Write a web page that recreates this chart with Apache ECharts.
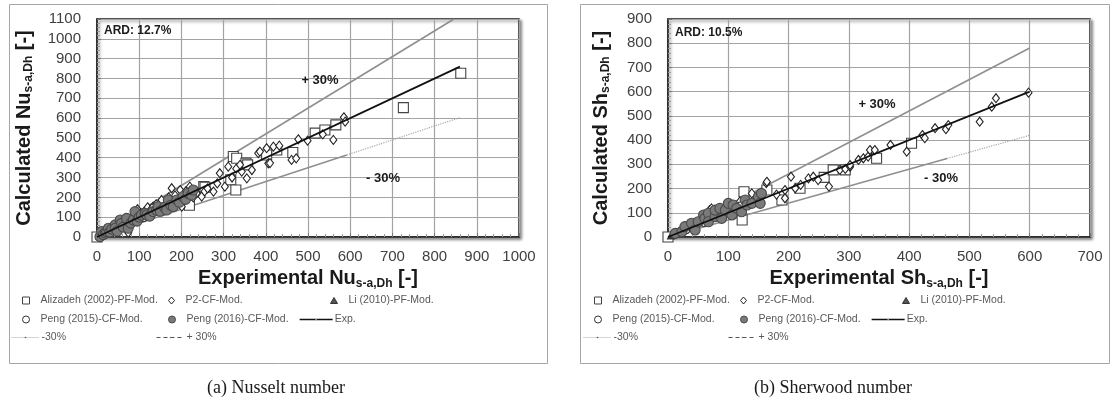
<!DOCTYPE html>
<html>
<head>
<meta charset="utf-8">
<script src="https://cdn.jsdelivr.net/npm/echarts@6.0.0/dist/echarts.min.js"></script>
<style>
html, body { margin: 0; padding: 0; background: #fff; }
#main { width: 1112px; height: 408px; }
</style>
</head>
<body>
<div id="main"></div>
<script>
// ---------- (a) Nusselt number ----------
var nuXTicks = [0, 100, 200, 300, 400, 500, 600, 700, 800, 900, 1000];
var nuYTicks = [0, 100, 200, 300, 400, 500, 600, 700, 800, 900, 1000, 1100];
var nuAlizadeh = [[0,0],[219,160],[253,254],[256,251],[317,288],[323,406],[329,237],[331,397],[353,373],[357,364],
  [402,414],[426,439],[464,426],[517,524],[540,540],[566,566],[726,653],[862,826]];
var nuP2 = [[12,15],[18,22],[25,28],[30,35],[38,45],[45,50],[52,60],[62,69],[70,82],[74,22],[80,95],[90,100],
  [96,140],[106,119],[112,128],[120,150],[128,140],[133,153],[140,165],[150,160],[153,187],[161,136],[170,200],
  [177,246],[185,210],[197,237],[201,153],[210,230],[220,254],[228,200],[236,221],[248,204],[255,230],[262,245],
  [276,229],[285,270],[291,322],[303,254],[311,355],[320,300],[330,345],[339,364],[343,330],[355,296],[367,338],
  [382,423],[386,431],[402,448],[406,372],[410,373],[418,456],[432,461],[461,389],[472,397],[477,493],[499,486],
  [535,518],[560,490],[585,604],[588,582]];
var nuLi = [[5,8],[10,12],[14,18]];
var nuPeng2015 = [[20,25],[35,30],[50,55],[65,60],[95,105],[110,95]];
var nuPeng2016 = [[7,2],[11,27],[15,12],[20,20],[23,27],[27,44],[30,25],[35,40],[43,61],[43,44],[48,30],[55,86],
  [58,69],[62,50],[70,94],[74,44],[80,70],[86,86],[90,128],[95,80],[100,100],[105,110],[114,119],[118,111],
  [125,105],[133,128],[141,136],[145,153],[150,130],[160,150],[165,136],[169,187],[175,160],[181,153],[189,187],
  [195,175],[204,204],[210,190],[216,221],[224,212],[228,237]];
var nuExp = [[0,0],[860,860]];
var nuPlus30 = [[0,0],[846,1100]];
var nuMinus30Solid = [[0,0],[592,414]];
var nuMinus30 = [[592,414],[860,602]];

// ---------- (b) Sherwood number ----------
var shXTicks = [0, 100, 200, 300, 400, 500, 600, 700];
var shYTicks = [0, 100, 200, 300, 400, 500, 600, 700, 800, 900];
var shAlizadeh = [[0,0],[123,70],[126,187],[164,194],[189,153],[219,201],[259,246],[274,277],[294,277],
  [346,325],[404,387]];
var shP2 = [[10,12],[18,20],[25,30],[33,38],[40,45],[48,55],[55,65],[62,70],[69,111],[72,118],[80,90],[90,100],
  [100,110],[111,125],[116,132],[119,146],[130,140],[139,180],[150,150],[163,222],[164,228],[180,175],[194,160],
  [194,194],[204,249],[211,201],[220,215],[233,242],[241,249],[249,235],[267,208],[285,277],[294,281],[302,290],
  [302,297],[316,318],[324,325],[332,332],[335,359],[343,359],[369,380],[396,352],[422,421],[426,408],[443,449],
  [461,445],[465,462],[517,476],[537,538],[544,573],[598,596]];
var shLi = [[5,6],[8,10],[12,14]];
var shPeng2015 = [[15,18],[30,28],[45,50],[60,58],[95,100],[120,130]];
var shPeng2016 = [[12,15],[23,22],[28,43],[39,57],[45,29],[50,63],[59,91],[61,77],[67,98],[67,63],[78,84],
  [78,111],[86,118],[89,77],[95,111],[100,139],[106,91],[108,132],[114,118],[122,104],[128,153],[131,132],
  [139,139],[150,166],[153,139],[155,180]];
var shExp = [[0,0],[600,600]];
var shPlus30 = [[0,0],[600,780]];
var shMinus30Solid = [[0,0],[463,324]];
var shMinus30 = [[463,324],[600,420]];

var FONT = 'Liberation Sans, Arial, sans-serif';

function axisCommon(ticks, idx) {
  return {
    type: 'value', gridIndex: idx,
    min: ticks[0], max: ticks[ticks.length - 1], interval: ticks[1] - ticks[0],
    axisLine: { show: true, lineStyle: { color: '#222', width: 1.5 } },
    axisTick: { show: true, inside: true, length: 4, lineStyle: { color: '#777' } },
    minorTick: { show: true, splitNumber: 5, length: 3, lineStyle: { color: '#999' } },
    splitLine: { show: true, lineStyle: { color: '#a3a3a3', width: 1.2 } },
    nameTextStyle: {
      color: '#1a1a1a', fontFamily: FONT,
      rich: {
        m: { fontSize: 20, fontWeight: 'bold', fontFamily: FONT, color: '#1a1a1a' },
        s: { fontSize: 12, fontWeight: 'bold', fontFamily: FONT, color: '#1a1a1a', padding: [10, 0, 0, 0] }
      }
    }
  };
}

function labelStyle(margin) {
  return { color: '#404040', fontSize: 15, fontFamily: FONT, margin: margin,
    formatter: function (v) { return String(v); } };
}

function scatter(name, data, idx, symbol, size, fill, stroke) {
  return {
    name: name, type: 'scatter', xAxisIndex: idx, yAxisIndex: idx, data: data,
    symbol: symbol, symbolSize: size,
    itemStyle: { color: fill, borderColor: stroke, borderWidth: 1.1, opacity: 1 },
    emphasis: { disabled: true }
  };
}

function line(name, data, idx, color, width, type, z) {
  return {
    name: name, type: 'line', xAxisIndex: idx, yAxisIndex: idx, data: data,
    symbol: 'none', z: z, lineStyle: { color: color, width: width, type: type },
    emphasis: { disabled: true }
  };
}

function panelSeries(idx, d) {
  return [
    line('+ 30%', d.plus, idx, '#8f8f8f', 1.6, 'solid', 2),
    line('-30% solid', d.minusSolid, idx, '#8f8f8f', 1.6, 'solid', 2),
    line('-30%', d.minus, idx, '#a8a8a8', 1.2, 'dotted', 2),
    scatter('Alizadeh (2002)-PF-Mod.', d.aliz, idx, 'rect', 10, '#fff', '#444'),
    scatter('P2-CF-Mod.', d.p2, idx, 'diamond', [7, 9], '#fff', '#222'),
    scatter('Li (2010)-PF-Mod.', d.li, idx, 'triangle', 7, '#555', '#333'),
    scatter('Peng (2015)-CF-Mod.', d.p15, idx, 'circle', 7, '#fff', '#333'),
    scatter('Peng (2016)-CF-Mod.', d.p16, idx, 'circle', 10, '#7a7a7a', '#4a4a4a'),
    line('Exp.', d.exp, idx, '#111', 1.8, 'solid', 5)
  ];
}

// legend entries: [name, iconLeft, rowTop, iconW, iconH]
function legendsFor(dx) {
  var rows = [302, 321, 339];
  var items = [
    ['Alizadeh (2002)-PF-Mod.', 22, rows[0], 7, 7],
    ['P2-CF-Mod.', 168, rows[0], 6, 7],
    ['Li (2010)-PF-Mod.', 330, rows[0], 7, 6],
    ['Peng (2015)-CF-Mod.', 22, rows[1], 7, 7],
    ['Peng (2016)-CF-Mod.', 168, rows[1], 7, 7],
    ['Exp.', 299, rows[1], 33, 2],
    ['-30%', 11, rows[2], 28, 2],
    ['+ 30%', 156, rows[2], 28, 2]
  ];
  return items.map(function (it) {
    var dataItem = { name: it[0], itemStyle: { borderWidth: 1 } };
    if (it[0] === '+ 30%') dataItem.lineStyle = { type: [4, 3], color: '#555', width: 1 };
    if (it[0] === '-30%') dataItem.lineStyle = { type: [1, 1], color: '#aaa', width: 1 };
    if (it[0] === 'Exp.') dataItem.lineStyle = { type: 'solid', color: '#111', width: 1.3 };
    return {
      left: it[1] + dx, top: it[2] - 7, orient: 'horizontal', padding: 0,
      itemWidth: it[3], itemHeight: it[4], itemGap: 0,
      selectedMode: false,
      data: [dataItem],
      textStyle: { fontSize: 10.5, color: '#595959', fontFamily: FONT,
        padding: [0, 0, 0, it[3] < 12 ? 6 : -3] }
    };
  });
}

var grids = [
  { left: 97, top: 19, width: 422, height: 218 },
  { left: 668, top: 19, width: 422, height: 218 }
];
grids.forEach(function (g) {
  g.show = true; g.containLabel = false;
  g.backgroundColor = '#fff'; g.borderColor = '#222'; g.borderWidth = 1.5;
  g.shadowColor = 'rgba(0,0,0,0.45)'; g.shadowBlur = 3; g.shadowOffsetX = 2; g.shadowOffsetY = 2;
});

var xAxes = [
  Object.assign(axisCommon(nuXTicks, 0), {
    name: '{m|Experimental Nu}{s|s-a,Dh}{m| [-]}', nameLocation: 'middle', nameGap: 29,
    axisLabel: labelStyle(12)
  }),
  Object.assign(axisCommon(shXTicks, 1), {
    name: '{m|Experimental Sh}{s|s-a,Dh}{m| [-]}', nameLocation: 'middle', nameGap: 29,
    axisLabel: labelStyle(12)
  })
];
var yAxes = [
  Object.assign(axisCommon(nuYTicks, 0), {
    name: '{m|Calculated Nu}{s|s-a,Dh}{m| [-]}', nameLocation: 'middle', nameGap: 62, nameRotate: 90,
    axisLabel: labelStyle(16)
  }),
  Object.assign(axisCommon(shYTicks, 1), {
    name: '{m|Calculated Sh}{s|s-a,Dh}{m| [-]}', nameLocation: 'middle', nameGap: 56, nameRotate: 90,
    axisLabel: labelStyle(16)
  })
];

var series = panelSeries(0, {
  plus: nuPlus30, minusSolid: nuMinus30Solid, minus: nuMinus30, aliz: nuAlizadeh, p2: nuP2,
  li: nuLi, p15: nuPeng2015, p16: nuPeng2016, exp: nuExp
}).concat(panelSeries(1, {
  plus: shPlus30, minusSolid: shMinus30Solid, minus: shMinus30, aliz: shAlizadeh, p2: shP2,
  li: shLi, p15: shPeng2015, p16: shPeng2016, exp: shExp
}));

function txt(x, y, s, size, weight, family, align) {
  return { type: 'text', x: x, y: y, z: 100,
    style: { text: s, fontSize: size, fontWeight: weight, fontFamily: family, fill: '#1a1a1a',
      align: align || 'left', verticalAlign: 'middle' } };
}

var chart = echarts.init(document.getElementById('main'));
chart.setOption({
  animation: false,
  backgroundColor: '#fff',
  grid: grids,
  xAxis: xAxes,
  yAxis: yAxes,
  legend: legendsFor(0).concat(legendsFor(572)),
  series: series,
  graphic: [
    { type: 'rect', shape: { x: 9.5, y: 4.5, width: 538, height: 359 }, z: -10,
      style: { fill: 'none', stroke: '#a6a6a6', lineWidth: 1 } },
    { type: 'rect', shape: { x: 580.5, y: 4.5, width: 529, height: 359 }, z: -10,
      style: { fill: 'none', stroke: '#a6a6a6', lineWidth: 1 } },
    txt(104, 31, 'ARD: 12.7%', 12, 'bold', FONT),
    txt(320, 80, '+ 30%', 13, 'bold', FONT, 'center'),
    txt(383, 178, '- 30%', 13, 'bold', FONT, 'center'),
    txt(675, 33, 'ARD: 10.5%', 12, 'bold', FONT),
    txt(877, 104, '+ 30%', 13, 'bold', FONT, 'center'),
    txt(941, 178, '- 30%', 13, 'bold', FONT, 'center'),
    txt(276, 388, '(a) Nusselt number', 18, 'normal', 'Liberation Serif, Times New Roman, serif', 'center'),
    txt(833, 388, '(b) Sherwood number', 18, 'normal', 'Liberation Serif, Times New Roman, serif', 'center')
  ]
});
</script>
</body>
</html>
